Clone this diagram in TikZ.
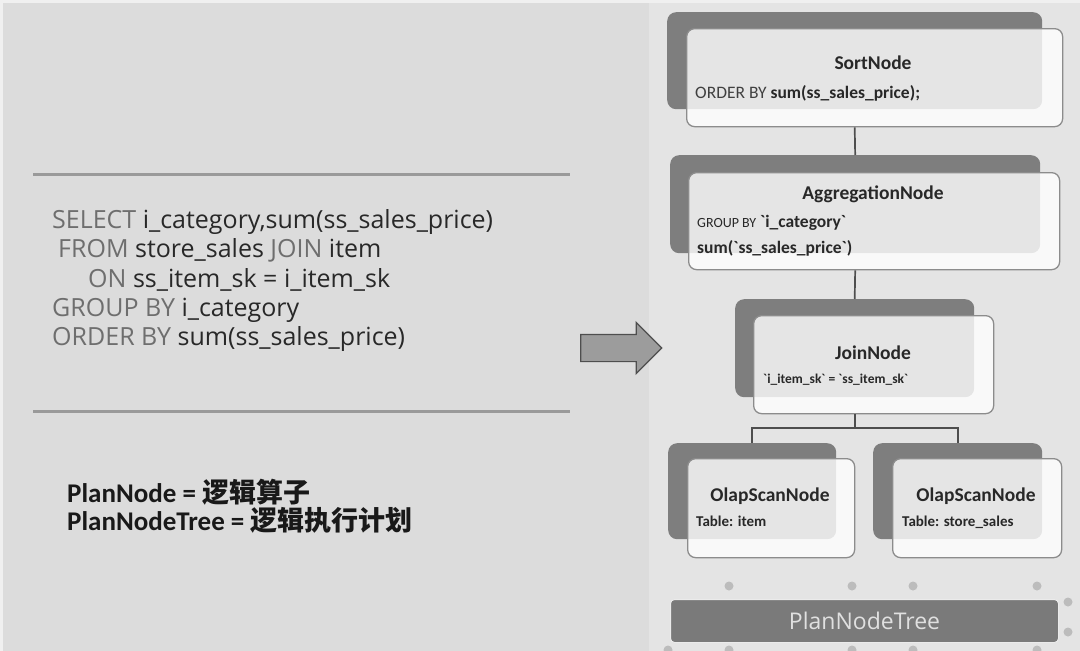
\documentclass[tikz,border=0pt]{standalone}
\usepackage{fontspec}
\setmainfont{Carlito}
\newfontfamily\sqlfont{Open Sans}
\newfontfamily\cjkfont{Noto Sans CJK SC}
\usepackage{xcolor}
\usetikzlibrary{shapes.arrows,positioning}

\definecolor{bgleft}{HTML}{DCDCDC}
\definecolor{bgright}{HTML}{E4E4E4}
\definecolor{backgray}{HTML}{7E7E7E}
\definecolor{kwgray}{HTML}{6E6E6E}
\definecolor{idgray}{HTML}{282828}
\definecolor{linegray}{HTML}{4E4E4E}
\definecolor{dotgray}{HTML}{BCBCBC}
\definecolor{rulegray}{HTML}{9A9A9A}
\definecolor{arrowgray}{HTML}{9C9C9C}

\newcommand{\kw}[1]{\textcolor{kwgray}{#1}}
\newcommand{\bq}{\textasciigrave}

\begin{document}
\begin{tikzpicture}[x=1pt, y=-1pt,
    backbox/.style={rectangle, fill=backgray, rounded corners=9pt, anchor=north west, inner sep=0pt},
    planbox/.style={rectangle, draw=black!45, line width=1.3pt, fill=white, fill opacity=0.8, rounded corners=8pt, anchor=north west, inner sep=0pt},
    title/.style={font=\bfseries\fontsize{19.5}{22}\selectfont, text=idgray, inner sep=0pt},
    detail/.style={anchor=base west, font=\fontsize{17.5}{20}\selectfont, text=idgray, inner sep=0pt},
    small/.style={anchor=base west, font=\bfseries\fontsize{15}{17}\selectfont, text=idgray, inner sep=0pt},
    sqlline/.style={anchor=base west, font=\sqlfont\fontsize{25}{28}\selectfont, text=idgray, inner sep=0pt},
    defline/.style={anchor=base west, inner sep=0pt, text=black!90, font=\bfseries\fontsize{27}{30}\selectfont},
    conn/.style={draw=linegray, line width=1.7pt}
]
    \useasboundingbox (0,0) rectangle (1080,651);
    % background
    \fill[white!94!black] (0,0) rectangle (1080,651);
    \fill[bgleft] (3,3) rectangle (649,651);
    \fill[bgright] (649,3) rectangle (1080,651);

    % SQL query
    \draw[rulegray, line width=3pt] (33,174) -- (570,174);
    \draw[rulegray, line width=3pt] (33,411) -- (570,411);
    \node[sqlline] (sql1) at (52,228) {\kw{SELECT} i\_category,sum(ss\_sales\_price)};
    \node[sqlline] (sql2) at (58,257) {\kw{FROM} store\_sales \kw{JOIN} item};
    \node[sqlline] (sql3) at (88,287) {\kw{ON} ss\_item\_sk = i\_item\_sk};
    \node[sqlline] (sql4) at (52,316) {\kw{GROUP BY} i\_category};
    \node[sqlline] (sql5) at (52,345) {\kw{ORDER BY} sum(ss\_sales\_price)};

    \node[defline] (def1) at (67,502) {PlanNode = {\cjkfont\bfseries 逻辑算子}};
    \node[defline] (def2) at (67,530) {PlanNodeTree = {\cjkfont\bfseries 逻辑执行计划}};

    % arrow
    \node[single arrow, draw=linegray, line width=1.2pt, fill=arrowgray, inner xsep=0pt, inner ysep=13pt,
          single arrow head extend=12pt, minimum height=81pt] (arrow) at (614.5,348) {};

    % dots
    \foreach \x/\y in {729/586, 852/586, 913/586, 1037/586, 1068/602, 1068/632,
                       668/650, 729/650, 852/650, 913/650, 1037/650}
        \fill[dotgray] (\x,\y) circle (4.5pt);

    % plan nodes
    \node[backbox, minimum width=375pt, minimum height=97pt] (sortbk) at (667,12) {};
    \node[planbox, minimum width=376pt, minimum height=98pt] (sort) at (686,28) {};
    \node[backbox, minimum width=370pt, minimum height=98pt] (aggbk) at (670,155) {};
    \node[planbox, minimum width=371pt, minimum height=97pt] (agg) at (688,172) {};
    \node[backbox, minimum width=239pt, minimum height=98pt] (joinbk) at (735,299) {};
    \node[planbox, minimum width=240pt, minimum height=98pt] (join) at (753,315) {};
    \node[backbox, minimum width=168pt, minimum height=96pt] (scanibk) at (668,443) {};
    \node[planbox, minimum width=167pt, minimum height=99pt] (scani) at (687,458) {};
    \node[backbox, minimum width=169pt, minimum height=96pt] (scansbk) at (873,443) {};
    \node[planbox, minimum width=169pt, minimum height=99pt] (scans) at (892,458) {};

    \node[title] (sorttitle) at (873,63) {SortNode};
    \node[detail] (sortorder) at (695,98) {\textcolor{black!75}{ORDER BY} \textbf{sum(ss\_sales\_price);}};
    \node[title] (aggtitle) at (873,194) {AggregationNode};
    \node[detail] (agggroup) at (697,227) {{\fontsize{14}{16}\selectfont GROUP BY} \textbf{\bq i\_category\bq}};
    \node[detail] (aggsum) at (697,253) {\textbf{sum(\bq ss\_sales\_price\bq)}};
    \node[title] (jointitle) at (873,353) {JoinNode};
    \node[small, font=\bfseries\fontsize{13.5}{16}\selectfont] (joincond) at (763,383) {\bq i\_item\_sk\bq{} = \bq ss\_item\_sk\bq};
    \node[title] (scanititle) at (770,496) {OlapScanNode};
    \node[small] (scanitable) at (696,526) {Table: item};
    \node[title] (scanstitle) at (976,496) {OlapScanNode};
    \node[small] (scanstable) at (902,526) {Table: store\_sales};

    % connectors
    \draw[conn] (sort.south -| sortbk.south) -- (aggbk.north);
    \draw[conn] (agg.south -| aggbk.south) -- (joinbk.north);
    \draw[conn] (join.south -| joinbk.south) -- ++(0,14) coordinate (fork);
    \draw[conn] (scanibk.north) |- (fork) -| (scansbk.north);

    % tree label
    \node[rectangle, draw=white!92!black, line width=1pt, fill=black!52, rounded corners=4pt,
          anchor=north west, minimum width=388pt, minimum height=43pt, text=white!88!black,
          font=\sqlfont\fontsize{23}{26}\selectfont] (tree) at (670,599) {PlanNodeTree};
\end{tikzpicture}
\end{document}
